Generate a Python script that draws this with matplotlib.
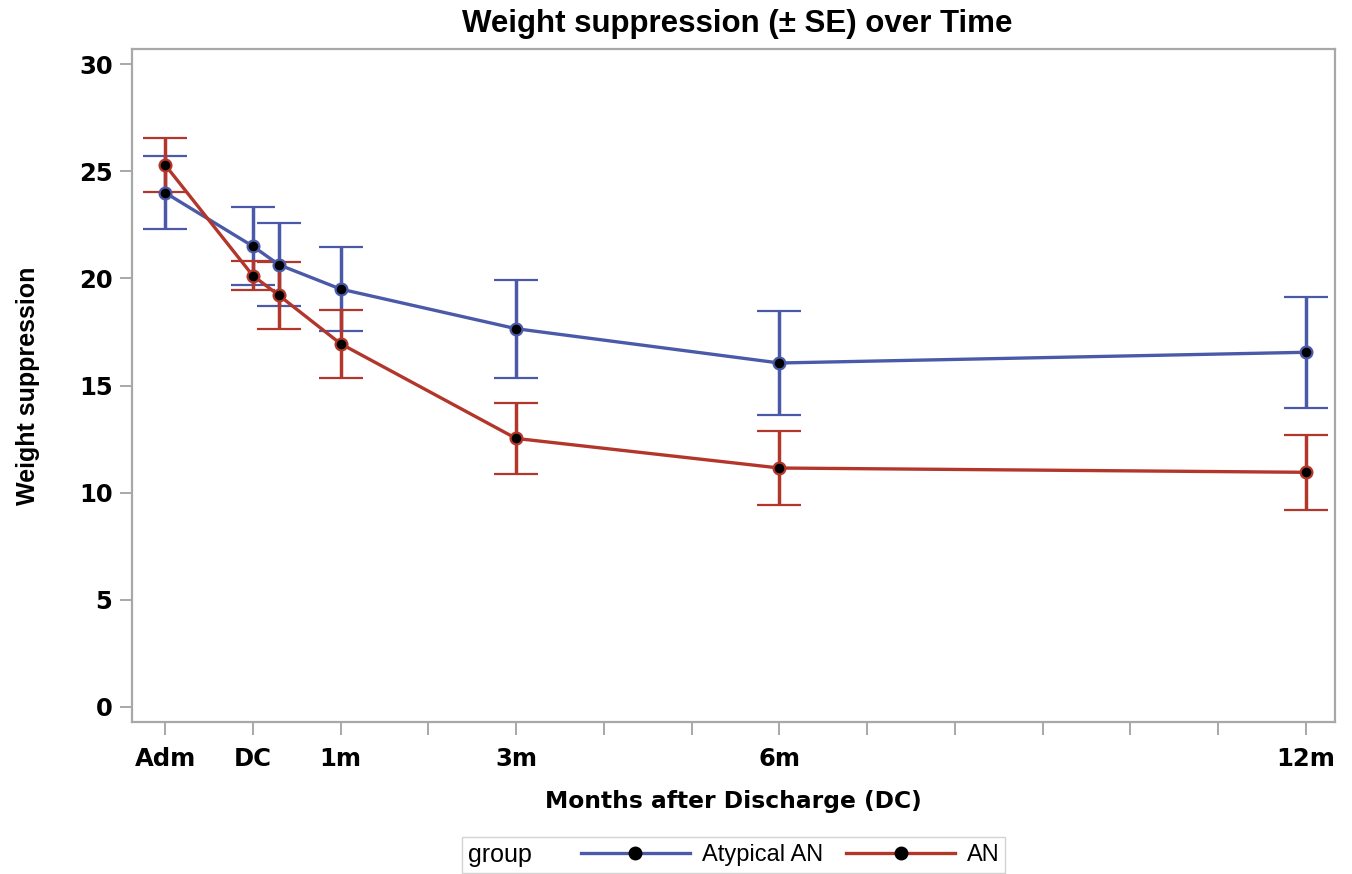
import matplotlib
matplotlib.use("Agg")
import matplotlib.pyplot as plt
from matplotlib.offsetbox import HPacker
from matplotlib.lines import Line2D

# ---- data ----
months = [-1, 0, 0.3, 1, 3, 6, 12]
tick_positions = list(range(-1, 13))
tick_labels = ['Adm', 'DC', '1m', '', '3m', '', '', '6m', '', '', '', '', '', '12m']

atyp_mean = [24.0, 21.5, 20.63, 19.5, 17.65, 16.05, 16.55]
atyp_se = [1.69, 1.81, 1.93, 1.95, 2.28, 2.43, 2.6]
an_mean = [25.3, 20.13, 19.2, 16.95, 12.53, 11.15, 10.95]
an_se = [1.27, 0.66, 1.55, 1.58, 1.67, 1.72, 1.74]

blue = '#4a5aa8'
red = '#b3362b'
frame = '#a8a8a8'
narrow = ['Liberation Sans', 'DejaVu Sans']

fig = plt.figure(figsize=(13.52, 8.74), dpi=100)
ax = fig.add_axes([132/1352, 1-722/874, (1335-132)/1352, (722-49)/874])

for mean, se, col, lab in [(atyp_mean, atyp_se, blue, 'Atypical AN'),
                           (an_mean, an_se, red, 'AN')]:
    ax.errorbar(months, mean, yerr=se, color=col, lw=2.4, elinewidth=2.5,
                capsize=15.5, capthick=2.5, marker='o', markersize=8.5,
                markerfacecolor='black', markeredgecolor=col, markeredgewidth=1.6,
                label=lab, zorder=3)

ax.set_xlim(-1.376, 12.33)
ax.set_ylim(-0.7, 30.7)
ax.set_xticks(tick_positions)
ax.set_xticklabels(tick_labels)
ax.set_yticks([0, 5, 10, 15, 20, 25, 30])

for s in ax.spines.values():
    s.set_color(frame)
    s.set_linewidth(1.6)
ax.tick_params(axis='both', colors=frame, length=9, width=1.4)
ax.tick_params(axis='x', pad=9)
ax.tick_params(axis='y', pad=5)
for lbl in ax.get_xticklabels() + ax.get_yticklabels():
    lbl.set_color('black')
    lbl.set_fontweight('bold')
    lbl.set_fontsize(17.5)
    lbl.set_family('DejaVu Sans')

ax.set_xlabel('Months after Discharge (DC)', fontsize=16.8, fontweight='bold',
              family='DejaVu Sans', labelpad=14)
ax.set_ylabel('Weight suppression', fontsize=18, fontweight='bold',
              family=narrow, labelpad=28)
fig.text(0.545, 0.973, 'Weight suppression (\u00b1 SE) over Time', ha='center', va='center',
         fontsize=22.5, fontweight='bold', family=narrow)

h2 = [Line2D([], [], color=blue, lw=2.4, marker='o', markersize=9, markerfacecolor='black',
             markeredgecolor='black'),
      Line2D([], [], color=red, lw=2.4, marker='o', markersize=9, markerfacecolor='black',
             markeredgecolor='black')]
leg = fig.legend(h2, ['Atypical AN', 'AN'], loc='center', bbox_to_anchor=(0.5425, 0.022),
                 ncol=2, frameon=True, fancybox=False, edgecolor='#c8c8c8',
                 handlelength=4.6, handletextpad=0.5, columnspacing=1.0, borderpad=0.25,
                 title='group', prop={'family': narrow, 'size': 17},
                 title_fontproperties={'family': narrow, 'size': 18})
try:
    fs = leg._fontsize
    newbox = HPacker(pad=leg.borderpad * fs, sep=2.1 * fs, align='center',
                     children=[leg._legend_title_box, leg._legend_handle_box])
    newbox.set_figure(fig)
    leg._legend_box = newbox
    leg._set_loc(leg._loc)
except Exception:
    pass

fig.savefig('out.png', dpi=100, facecolor='white')
